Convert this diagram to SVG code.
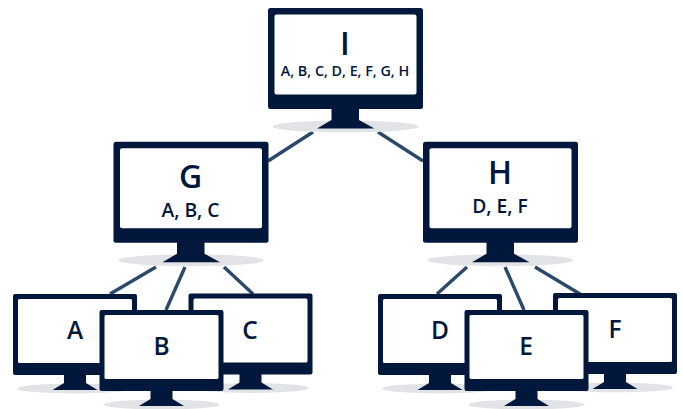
<svg xmlns="http://www.w3.org/2000/svg" width="683" height="409" viewBox="0 0 683 409">
<style>
.frame{fill:#01173c}.screen{fill:#fff}.shadow{fill:#e1e3e6}
.link{stroke:#2b4a6b;stroke-width:3.4;fill:none}
text{font-family:"Open Sans","Noto Sans","Liberation Sans",sans-serif;fill:#01173c;text-anchor:middle;font-weight:600}
.t{font-size:32px}.s{font-size:24.500px}.u{font-size:19.300px}.v{font-size:14.300px}
</style>
<defs>
<g id="big">
<ellipse class="shadow" cx="77.5" cy="118.5" rx="73" ry="6"/>
<rect class="frame" width="155" height="101" rx="2.5"/>
<rect class="screen" x="6.5" y="6.5" width="142" height="80" rx="2"/>
<path class="frame" d="M63.500 100V112L49 120.500H106.500L91 112V100Z"/>
</g>
<g id="small">
<ellipse class="shadow" cx="62" cy="94.500" rx="58" ry="5"/>
<rect class="frame" width="124" height="81" rx="2"/>
<rect class="screen" x="5" y="5" width="114" height="64" rx="1.500"/>
<path class="frame" d="M51 80V89L39.500 96H84.500L73 89V80Z"/>
</g>
</defs>
<g id="connectors">
<line class="link" x1="268" y1="161" x2="313" y2="132"/>
<line class="link" x1="378" y1="132" x2="423" y2="161"/>
<line class="link" x1="156" y1="267" x2="110" y2="294"/>
<line class="link" x1="185" y1="267" x2="166" y2="310"/>
<line class="link" x1="224" y1="267" x2="253" y2="294"/>
<line class="link" x1="467" y1="267" x2="437" y2="294"/>
<line class="link" x1="505" y1="267" x2="524" y2="310"/>
<line class="link" x1="535" y1="267" x2="580" y2="294"/>
</g>
<g id="node-A"><use href="#small" x="13" y="294"/><text class="s" x="75" y="339">A</text></g>
<g id="node-C"><use href="#small" x="188.500" y="293.500"/><text class="s" x="250" y="339">C</text></g>
<g id="node-B"><use href="#small" x="99.500" y="310"/><text class="s" x="161.500" y="355">B</text></g>
<g id="node-D"><use href="#small" x="378" y="294"/><text class="s" x="440" y="339">D</text></g>
<g id="node-F"><use href="#small" x="553" y="293"/><text class="s" x="615" y="338">F</text></g>
<g id="node-E"><use href="#small" x="464.500" y="310"/><text class="s" x="526" y="355">E</text></g>
<g id="node-G"><use href="#big" x="113.500" y="141.700"/><text class="t" x="190.500" y="188">G</text><text class="u" x="190.500" y="217">A, B, C</text></g>
<g id="node-H"><use href="#big" x="423" y="141.700"/><text class="t" x="500" y="184">H</text><text class="u" x="500" y="213">D, E, F</text></g>
<g id="node-I"><use href="#big" x="268" y="8"/><text class="t" x="345" y="55">I</text><text class="v" x="345" y="76">A, B, C, D, E, F, G, H</text></g>
</svg>
